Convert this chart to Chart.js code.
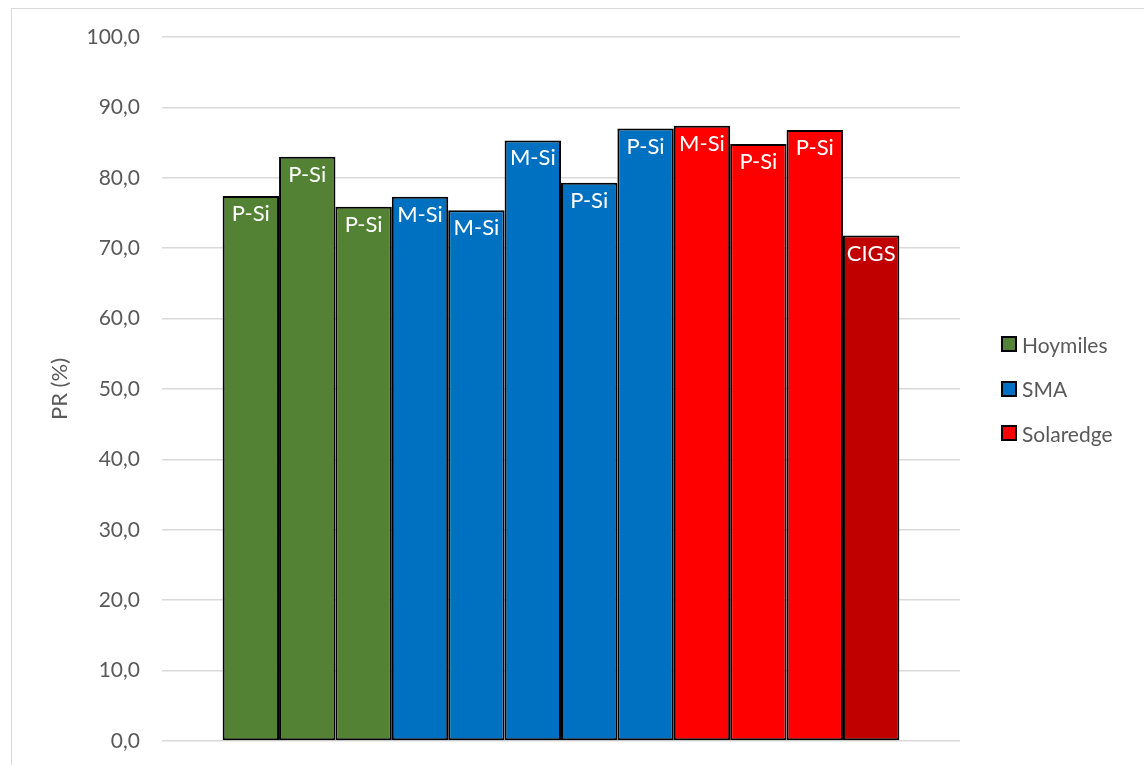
<!DOCTYPE html>
<html>
<head>
<meta charset="utf-8">
<script src="https://cdn.jsdelivr.net/npm/chart.js@4/dist/chart.umd.min.js"></script>
<style>
  html, body { margin: 0; padding: 0; background: #fff; overflow: hidden; }
  #wrap { position: relative; width: 1144px; height: 765px; }
  #frame { position: absolute; left: 11px; top: 8px; width: 1200px; height: 800px;
           border: 1px solid #d9d9d9; box-sizing: border-box; pointer-events: none; }
  #chart { position: absolute; left: 0; top: 0; }
  #legend { position: absolute; left: 1001px; top: 321.75px; font-family: Lato, sans-serif;
            font-size: 21px; color: #595959; }
  .item { height: 44.5px; display: flex; align-items: center; white-space: nowrap; }
  .swatch { width: 16px; height: 16px; box-sizing: border-box; border: 2px solid #000; margin-right: 5px; }
</style>
</head>
<body>
<div id="wrap">
  <div id="frame"></div>
  <canvas id="chart" width="1144" height="765"></canvas>
  <div id="legend"></div>
</div>
<script>
// Cell technology of each measured string, in plotting order
const technologies = ['P-Si', 'P-Si', 'P-Si', 'M-Si', 'M-Si', 'M-Si', 'P-Si', 'P-Si', 'M-Si', 'P-Si', 'P-Si', 'CIGS'];
// Inverter brand of each string
const inverters = ['Hoymiles', 'Hoymiles', 'Hoymiles', 'SMA', 'SMA', 'SMA', 'SMA', 'SMA', 'Solaredge', 'Solaredge', 'Solaredge', 'Solaredge'];
// Performance ratio, %
const prValues = [77.4, 83.0, 75.9, 77.3, 75.4, 85.3, 79.3, 87.0, 87.4, 84.8, 86.8, 71.8];
// Legend entries
const brands = ['Hoymiles', 'SMA', 'Solaredge'];
// Y axis range
const yMin = 0, yMax = 100, yStep = 10;

// Styling
const brandColor = { Hoymiles: '#548235', SMA: '#0070C0', Solaredge: '#FF0000' };
const techColor = { CIGS: '#C00000' };
const FONT = 'Lato, sans-serif';
const GREY = '#595959';

const datasets = prValues.map((v, i) => ({
  label: inverters[i],
  data: [v],
  tech: technologies[i],
  backgroundColor: techColor[technologies[i]] || brandColor[inverters[i]],
  borderColor: '#000',
  borderWidth: 2,
  borderSkipped: false,
  categoryPercentage: 0.848,
  barPercentage: 1.0
}));

// Writes the technology name inside the top of every bar
const barLabels = {
  id: 'barLabels',
  afterDatasetsDraw(chart) {
    const ctx = chart.ctx;
    ctx.save();
    ctx.font = '22px ' + FONT;
    ctx.fillStyle = '#fff';
    ctx.textAlign = 'center';
    ctx.textBaseline = 'alphabetic';
    chart.data.datasets.forEach((ds, i) => {
      const bar = chart.getDatasetMeta(i).data[0];
      ctx.fillText(ds.tech, bar.x, bar.y + 25);
    });
    ctx.restore();
  }
};

new Chart(document.getElementById('chart'), {
  type: 'bar',
  data: { labels: [''], datasets },
  options: {
    responsive: false,
    animation: false,
    layout: { padding: { top: 37, bottom: 24, left: 0, right: 184 } },
    plugins: {
      legend: { display: false },
      tooltip: { enabled: false }
    },
    scales: {
      x: { display: false },
      y: {
        min: yMin, max: yMax,
        afterFit(scale) {
          scale.width = 162;
          scale.paddingTop = 12;
          scale.paddingBottom = 12;
        },
        ticks: {
          stepSize: yStep,
          padding: 22,
          color: GREY,
          font: { family: FONT, size: 21 },
          callback: v => v.toFixed(1).replace('.', ',')
        },
        grid: { color: '#d9d9d9', lineWidth: 1.5, drawTicks: false },
        border: { display: false },
        title: {
          display: true,
          text: 'PR (%)',
          color: GREY,
          font: { family: FONT, size: 22 },
          padding: { top: 47, bottom: 0 }
        }
      }
    }
  },
  plugins: [barLabels]
});

// Legend with one entry per inverter brand
const legend = document.getElementById('legend');
brands.forEach(b => {
  const row = document.createElement('div');
  row.className = 'item';
  const sw = document.createElement('span');
  sw.className = 'swatch';
  sw.style.background = brandColor[b];
  const tx = document.createElement('span');
  tx.textContent = b;
  row.appendChild(sw);
  row.appendChild(tx);
  legend.appendChild(row);
});
</script>
</body>
</html>
